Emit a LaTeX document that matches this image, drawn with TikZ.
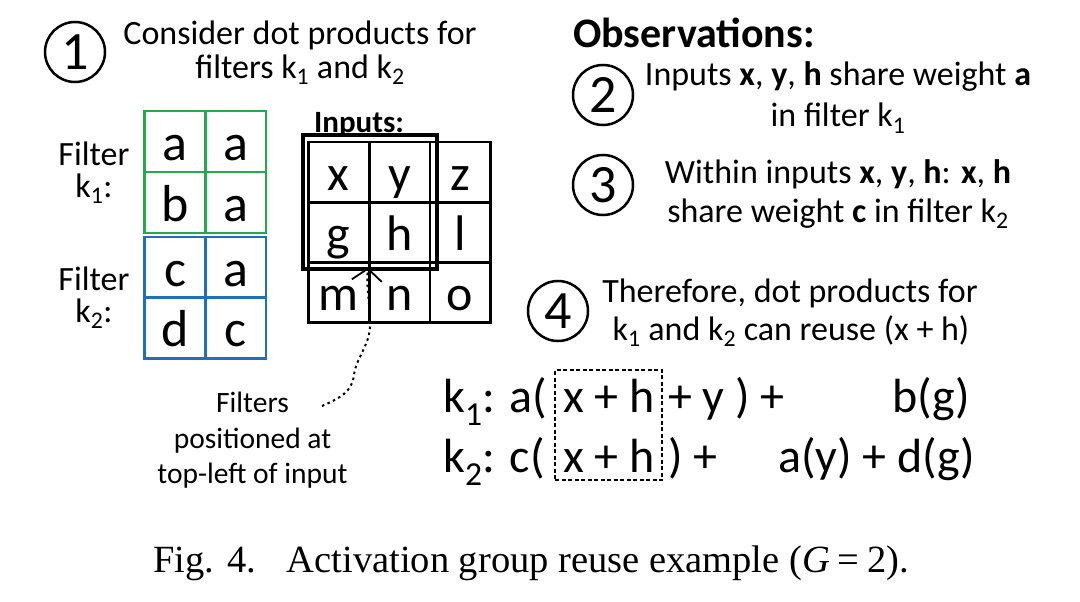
\documentclass[tikz,border=0pt]{standalone}
\usepackage{fontspec}
\setmainfont{Carlito}
\newfontfamily\capfont{Liberation Serif}
\usetikzlibrary{arrows.meta}
\definecolor{fgreen}{RGB}{34,170,76}
\definecolor{fblue}{RGB}{31,112,185}
\newcommand\kk[1]{k\textsubscript{#1}}
\begin{document}
\begin{tikzpicture}[x=1pt,y=-1pt,
  num/.style={circle, draw, line width=2.5pt, minimum size=60pt, inner sep=0pt, font=\fontsize{54}{54}\selectfont},
  txt/.style={anchor=base, inner sep=0pt, font=\fontsize{34}{38}\selectfont},
  lab/.style={anchor=base, inner sep=0pt, font=\fontsize{34}{36}\selectfont},
  note/.style={anchor=base, inner sep=0pt, font=\fontsize{29.5}{32}\selectfont},
  eq/.style={inner sep=0pt, font=\fontsize{48}{50}\selectfont},
  cellbase/.style={line width=2.5pt, minimum size=61pt, inner sep=0pt, text height=37pt, text depth=0pt, font=\fontsize{52}{52}\selectfont},
  gcell/.style={cellbase, draw=fgreen},
  bcell/.style={cellbase, draw=fblue},
  icell/.style={cellbase, draw=black, minimum size=60.5pt, text height=36pt, font=\fontsize{50}{50}\selectfont},
]
\useasboundingbox (0,0) rectangle (1080,602);
\fill[white] (0,0) rectangle (1080,602);

% step 1
\node[num] (n1) at (75,52) {1};
\node[txt] (t1a) at (300,45) {Consider dot products for};
\node[txt] (t1b) at (300,78) {filters \kk1 and \kk2};

% filter labels
\node[lab] (f1a) at (94,165) {Filter};
\node[lab] (f1b) at (94,197) {\kk1:};
\node[lab] (f2a) at (94,290) {Filter};
\node[lab] (f2b) at (94,322) {\kk2:};

% filter k1
\node[gcell] (g11) at (175,141.5) {a};
\node[gcell] (g12) at (235.5,141.5) {a};
\node[gcell] (g21) at (175,202.5) {b};
\node[gcell] (g22) at (235.5,202.5) {a};
% filter k2
\node[bcell] (b11) at (175,267.5) {c};
\node[bcell] (b12) at (235.5,267.5) {a};
\node[bcell] (b21) at (175,328) {d};
\node[bcell] (b22) at (235.5,328) {c};

% inputs
\node[anchor=base, inner sep=0pt, font=\bfseries\fontsize{31}{31}\selectfont] (inl) at (359,132) {Inputs:};
\node[icell] (i11) at (338.5,172) {x};
\node[icell] (i12) at (399.5,172) {y};
\node[icell] (i13) at (460,172) {z};
\node[icell] (i21) at (338.5,232) {g};
\node[icell] (i22) at (399.5,232) {h};
\node[icell] (i23) at (460,232) {l};
\node[icell] (i31) at (338.5,292) {m};
\node[icell] (i32) at (399.5,292) {n};
\node[icell] (i33) at (460,292) {o};
\node[draw, line width=3.5pt, minimum size=134pt, inner sep=0pt] (fpos) at (370,202) {};

% note
\node[note] (nt1) at (252.5,412) {Filters};
\node[note] (nt2) at (252.5,448) {positioned at};
\node[note] (nt3) at (252.5,483) {top-left of input};
\coordinate (astart) at (322,406);
\coordinate (atip) at ([yshift=-7pt]i32.north west);
\draw[line width=2pt, dash pattern=on 2.5pt off 3.5pt,
      -{Straight Barb[length=12pt,width=30pt,line width=1.8pt]}]
  (astart) .. controls (340,398) and (352,392) .. (354,375)
  .. controls (356,358) and (370,345) .. (370,325)
  .. controls (370,300) and (366,290) .. (atip);

% observations
\node[anchor=base, inner sep=0pt, font=\bfseries\fontsize{42}{42}\selectfont] (obs) at (694,48) {Observations:};
\node[num] (n2) at (603,95) {2};
\node[txt] (t2a) at (838,85) {Inputs \textbf{x}, \textbf{y}, \textbf{h} share weight \textbf{a}};
\node[txt] (t2b) at (838,127) {in filter \kk1};
\node[num] (n3) at (603,185) {3};
\node[txt] (t3a) at (838,183) {Within inputs \textbf{x}, \textbf{y}, \textbf{h}: \textbf{x}, \textbf{h}};
\node[txt] (t3b) at (838,222) {share weight \textbf{c} in filter \kk2};
\node[num] (n4) at (558,311) {4};
\node[txt] (t4a) at (790,302) {Therefore, dot products for};
\node[txt] (t4b) at (791,340) {\kk1 and \kk2 can reuse (x + h)};

% equations
\node[eq, anchor=base west] (e1a) at (443,412) {\kk1: a(};
\node[eq, anchor=base west] (e1b) at (563,412) {x + h};
\node[eq, anchor=base west] (e1c) at (668,412) {+ y ) +};
\node[eq, anchor=base east] (e1d) at (970,412) {b(g)};
\node[eq, anchor=base west] (e2a) at (443,472) {\kk2: c(};
\node[eq, anchor=base west] (e2b) at (563,472) {x + h};
\node[eq, anchor=base west] (e2c) at (668,472) {) +};
\node[eq, anchor=base east] (e2d) at (975,472) {a(y) + d(g)};
\node[draw, line width=2.5pt, dash pattern=on 4pt off 2.5pt, minimum width=107pt, minimum height=110pt, inner sep=0pt] (reuse) at (608.5,425) {};

% caption
\node[anchor=base, inner sep=0pt, font=\capfont\fontsize{38.5}{38.5}\selectfont] (cap) at (531,572)
  {Fig. 4.\hspace{0.8em}Activation group reuse example (\textit{G}\hspace{0.2em}=\hspace{0.2em}2).};
\end{tikzpicture}
\end{document}
